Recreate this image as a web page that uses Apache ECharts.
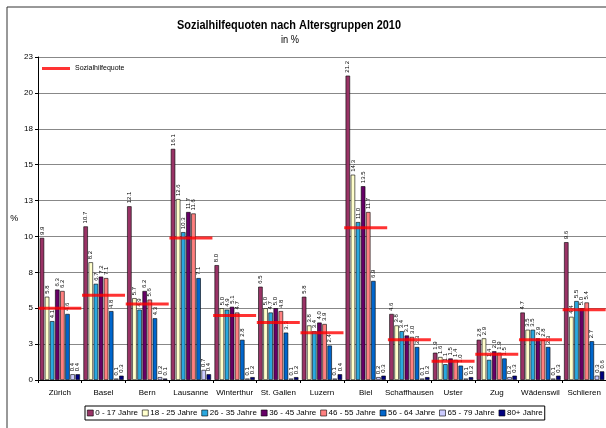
<!DOCTYPE html>
<html>
<head>
<meta charset="utf-8">
<script src="https://cdn.jsdelivr.net/npm/echarts@6/dist/echarts.min.js"></script>
<style>
  html, body { margin: 0; padding: 0; background: #fff; }
  #chart { width: 606px; height: 428px; }
</style>
</head>
<body>
<div id="chart"></div>
<script>
const cities = ['Zürich', 'Basel', 'Bern', 'Lausanne', 'Winterthur', 'St. Gallen', 'Luzern', 'Biel', 'Schaffhausen', 'Uster', 'Zug', 'Wädenswil', 'Schlieren'];
const ageGroups = ['0 - 17 Jahre', '18 - 25 Jahre', '26 - 35 Jahre', '36 - 45 Jahre', '46 - 55 Jahre', '56 - 64 Jahre', '65 - 79 Jahre', '80+ Jahre'];

// Quote je Altersgruppe, in %
const age0_17  = [9.9, 10.7, 12.1, 16.1, 8.0, 6.5, 5.8, 21.2, 4.6, 1.9, 2.8, 4.7, 9.6];
const age18_25 = [5.8, 8.2, 5.7, 12.6, 5.0, 5.0, 3.8, 14.3, 3.8, 1.6, 2.9, 3.5, 4.4];
const age26_35 = [4.1, 6.7, 4.9, 10.3, 4.9, 4.7, 3.4, 11.0, 3.4, 1.1, 1.4, 3.5, 5.5];
const age36_45 = [6.3, 7.2, 6.2, 11.7, 5.1, 5.0, 4.0, 13.5, 3.1, 1.5, 2.0, 2.9, 5.0];
const age46_55 = [6.2, 7.1, 5.6, 11.6, 4.7, 4.8, 3.9, 11.7, 3.0, 1.4, 1.9, 2.8, 5.4];
const age56_64 = [4.6, 4.8, 4.3, 7.1, 2.8, 3.3, 2.4, 6.9, 2.3, 1.0, 1.5, 2.3, 2.7];
const age65_79 = [0.4, 0.1, 0.2, 0.7, 0.1, 0.1, 0.1, 0.2, 0.1, 0.1, 0.2, 0.1, 0.3];
const age80    = [0.4, 0.3, 0.1, 0.4, 0.2, 0.2, 0.4, 0.3, 0.2, 0.2, 0.3, 0.3, 0.6];

// Sozialhilfequote gesamt
const quote = [5.0, 5.9, 5.3, 9.9, 4.5, 4.0, 3.3, 10.6, 2.8, 1.3, 1.8, 2.8, 4.9];

const yTicks = [0, 2.5, 5, 7.5, 10, 12.5, 15, 17.5, 20, 22.5];

const colors = ['#993366', '#FFFFCC', '#2AA8DF', '#660066', '#FF8080', '#0066CC', '#CCCCFF', '#000080'];
const ageData = [age0_17, age18_25, age26_35, age36_45, age46_55, age56_64, age65_79, age80];

const font = '"Liberation Sans", Arial, sans-serif';

const chart = echarts.init(document.getElementById('chart'));

const barSeries = ageGroups.map((name, i) => ({
  name: name,
  type: 'bar',
  data: ageData[i],
  barGap: '15%',
  barCategoryGap: '8%',
  itemStyle: { color: colors[i], borderColor: '#000', borderWidth: 0.6 },
  label: {
    show: true,
    position: 'top',
    rotate: 90,
    align: 'left',
    verticalAlign: 'middle',
    distance: 3,
    fontSize: 6,
    fontFamily: font,
    color: '#000',
    formatter: p => p.value.toFixed(1)
  }
}));

chart.setOption({
  animation: false,
  textStyle: { fontFamily: font },
  graphic: [
    {
      type: 'rect',
      shape: { x: 7, y: 7, width: 620, height: 440 },
      style: { fill: 'none', stroke: '#333', lineWidth: 1 },
      silent: true
    },
    {
      type: 'text', x: 289, y: 25, scaleX: 0.84,
      style: { text: 'Sozialhilfequoten nach Altersgruppen 2010', fontSize: 13, fontWeight: 'bold',
        fontFamily: font, fill: '#000', align: 'center', verticalAlign: 'middle' }
    },
    {
      type: 'text', x: 290, y: 40, scaleX: 0.84,
      style: { text: 'in %', fontSize: 11, fontFamily: font, fill: '#000',
        align: 'center', verticalAlign: 'middle' }
    }
  ],
  legend: [
    {
      data: ageGroups,
      left: 85,
      top: 406,
      orient: 'horizontal',
      icon: 'rect',
      itemWidth: 6,
      itemHeight: 6,
      itemGap: 4,
      padding: [3, 2],
      borderColor: '#000',
      borderWidth: 1,
      textStyle: { fontSize: 8, color: '#000', fontFamily: font, padding: [0, 0, 0, -3] },
      itemStyle: { borderColor: '#000', borderWidth: 0.6 }
    },
    {
      data: ['Sozialhilfequote'],
      left: 42,
      top: 65,
      icon: 'rect',
      itemWidth: 28,
      itemHeight: 3,
      padding: 0,
      textStyle: { fontSize: 7, color: '#000', fontFamily: font }
    }
  ],
  grid: { left: 38, top: 57, width: 570, height: 323, containLabel: false },
  xAxis: {
    type: 'category',
    data: cities,
    axisLine: { lineStyle: { color: '#000', width: 1 } },
    axisTick: { show: true, length: 3, lineStyle: { color: '#000' } },
    axisLabel: { fontSize: 8, color: '#000', margin: 9, interval: 0, fontFamily: font }
  },
  yAxis: {
    type: 'value',
    min: yTicks[0],
    max: yTicks[yTicks.length - 1],
    interval: 2.5,
    name: '%',
    nameLocation: 'middle',
    nameGap: 17,
    nameRotate: 0,
    nameTextStyle: { fontSize: 9, color: '#000', fontFamily: font },
    axisLine: { show: true, lineStyle: { color: '#000', width: 1 } },
    axisTick: { show: true, length: 3, lineStyle: { color: '#000' } },
    axisLabel: { fontSize: 8, color: '#000', margin: 5, fontFamily: font,
      formatter: v => String(Math.round(v)) },
    splitLine: { show: true, lineStyle: { color: '#888', width: 1 } }
  },
  series: barSeries.concat([{
    name: 'Sozialhilfequote',
    type: 'scatter',
    data: quote,
    symbol: 'rect',
    symbolSize: [43, 3],
    itemStyle: { color: '#FF0000' },
    z: 5
  }])
});
</script>
</body>
</html>
